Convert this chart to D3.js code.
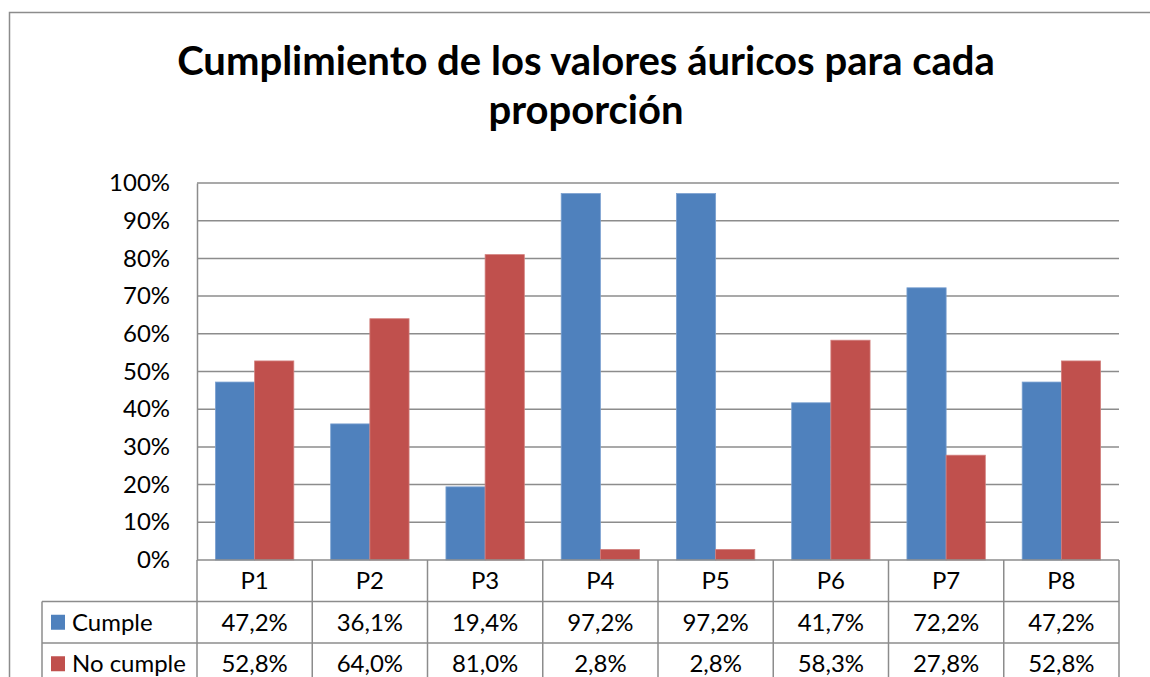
<!DOCTYPE html>
<html>
<head>
<meta charset="utf-8">
<script src="https://cdn.jsdelivr.net/npm/d3@7"></script>
<style>
  body { margin: 0; background: #fff; }
  svg { display: block; }
  text { font-family: Lato, "Open Sans", sans-serif; fill: #000; }
</style>
</head>
<body>
<div id="chart"></div>
<script>
const categories = ['P1', 'P2', 'P3', 'P4', 'P5', 'P6', 'P7', 'P8'];
const seriesNames = ['Cumple', 'No cumple'];
const cumple = [47.2, 36.1, 19.4, 97.2, 97.2, 41.7, 72.2, 47.2];
const noCumple = [52.8, 64.0, 81.0, 2.8, 2.8, 58.3, 27.8, 52.8];
const yTicks = [0, 10, 20, 30, 40, 50, 60, 70, 80, 90, 100];
const titleLines = ['Cumplimiento de los valores áuricos para cada', 'proporción'];

const width = 1150, height = 677;
const colors = ['#4F81BD', '#C0504D'];
const lineColor = '#8c8c8c';

const plot = { left: 197, right: 1119, top: 183, bottom: 560 };
const rowH = 41.5;
const legendLeft = 42;

const svg = d3.select('#chart').append('svg')
  .attr('width', width)
  .attr('height', height);

// font size that makes a sample string as wide as in the reference
function fitSize(sample, target, weight) {
  const t = svg.append('text')
    .style('font-size', '20px')
    .style('font-weight', weight || 'normal')
    .text(sample);
  const w = t.node().getComputedTextLength();
  t.remove();
  return 20 * target / w;
}

const labelSize = fitSize('No cumple', 114) + 'px';

// outer chart frame
svg.append('rect')
  .attr('x', 9.5).attr('y', 12.5)
  .attr('width', width + 20).attr('height', height + 20)
  .attr('fill', 'none')
  .attr('stroke', lineColor)
  .attr('stroke-width', 1.5);

// title
svg.append('text')
  .attr('text-anchor', 'middle')
  .style('font-weight', 'bold')
  .style('font-size', fitSize(titleLines[0], 818, 'bold') + 'px')
  .selectAll('tspan')
  .data(titleLines)
  .join('tspan')
  .attr('x', 586)
  .attr('y', (d, i) => 75 + i * 49)
  .text(d => d);

const x = d3.scaleBand()
  .domain(categories)
  .range([plot.left, plot.right])
  .paddingInner(0.32)
  .paddingOuter(0.16);

const xs = d3.scaleBand()
  .domain(seriesNames)
  .range([0, x.bandwidth()]);

const y = d3.scaleLinear()
  .domain([0, 100])
  .range([plot.bottom, plot.top]);

// gridlines
svg.append('g')
  .selectAll('line')
  .data(yTicks.filter(d => d > 0))
  .join('line')
  .attr('x1', plot.left).attr('x2', plot.right)
  .attr('y1', d => y(d)).attr('y2', d => y(d))
  .attr('stroke', lineColor)
  .attr('stroke-width', 1.5);

// y axis labels
const yAxis = svg.append('g')
  .attr('transform', `translate(${plot.left},0)`)
  .call(d3.axisLeft(y).tickValues(yTicks).tickSize(0).tickPadding(27).tickFormat(d => d + '%'));
yAxis.select('.domain').attr('stroke', lineColor).attr('stroke-width', 1.5);
yAxis.selectAll('text')
  .style('font-size', labelSize)
  .style('font-family', 'Lato, "Open Sans", sans-serif')
  .attr('fill', '#000');

// bars
const series = [cumple, noCumple];
const groups = svg.append('g')
  .selectAll('g')
  .data(series)
  .join('g')
  .attr('fill', (d, i) => colors[i]);

groups.selectAll('rect')
  .data((vals, si) => vals.map((v, ci) => ({ v, cat: categories[ci], s: seriesNames[si], si })))
  .join('rect')
  .attr('x', d => x(d.cat) + xs(d.s))
  .attr('y', d => y(d.v))
  .attr('width', xs.bandwidth())
  .attr('height', d => y(0) - y(d.v))
  .attr('stroke', d => d.si === 0 ? '#7aa0d0' : '#d27f7d')
  .attr('stroke-width', 0.8);

// data table
const table = svg.append('g');
const step = x.step();
const colEdges = categories.map((c, i) => plot.left + i * step).concat([plot.right]);
const rowY = [plot.bottom, plot.bottom + rowH, plot.bottom + 2 * rowH, plot.bottom + 3 * rowH];

table.selectAll('line.v')
  .data(colEdges)
  .join('line')
  .attr('class', 'v')
  .attr('x1', d => d).attr('x2', d => d)
  .attr('y1', plot.bottom).attr('y2', height + 5)
  .attr('stroke', lineColor).attr('stroke-width', 1.5);

table.append('line')
  .attr('x1', legendLeft).attr('x2', legendLeft)
  .attr('y1', rowY[1]).attr('y2', height + 5)
  .attr('stroke', lineColor).attr('stroke-width', 1.5);

table.selectAll('line.h')
  .data(rowY)
  .join('line')
  .attr('class', 'h')
  .attr('x1', (d, i) => i === 0 ? plot.left : legendLeft)
  .attr('x2', plot.right)
  .attr('y1', d => d).attr('y2', d => d)
  .attr('stroke', lineColor).attr('stroke-width', 1.5);

table.selectAll('text.cat')
  .data(categories)
  .join('text')
  .attr('class', 'cat')
  .attr('x', d => x(d) + x.bandwidth() / 2)
  .attr('y', rowY[0] + rowH / 2)
  .attr('dy', '0.36em')
  .attr('text-anchor', 'middle')
  .style('font-size', labelSize)
  .text(d => d);

const fmt = v => d3.format('.1f')(v).replace('.', ',') + '%';

series.forEach((vals, si) => {
  const cy = rowY[si + 1] + rowH / 2;
  table.append('rect')
    .attr('x', 51).attr('y', cy - 7.5)
    .attr('width', 14).attr('height', 15)
    .attr('fill', colors[si]);
  table.append('text')
    .attr('x', 72).attr('y', cy)
    .attr('dy', '0.36em')
    .style('font-size', labelSize)
    .text(seriesNames[si]);
  table.selectAll(null)
    .data(vals)
    .join('text')
    .attr('x', (d, i) => x(categories[i]) + x.bandwidth() / 2)
    .attr('y', cy)
    .attr('dy', '0.36em')
    .attr('text-anchor', 'middle')
    .style('font-size', labelSize)
    .text(d => fmt(d));
});
</script>
</body>
</html>
